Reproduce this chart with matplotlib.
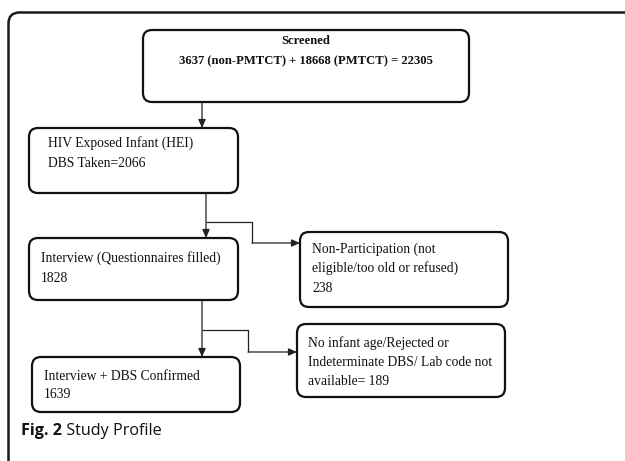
import matplotlib
matplotlib.use("Agg")
import matplotlib.pyplot as plt
from matplotlib.patches import FancyBboxPatch

# ---- data (texts and counts) ----
screened_title = "Screened"
screened_line = "3637 (non-PMTCT) + 18668 (PMTCT) = 22305"
hei_lines = ["HIV Exposed Infant (HEI)", "DBS Taken=2066"]
interview_lines = ["Interview (Questionnaires filled)", "1828"]
nonpart_lines = ["Non-Participation (not", "eligible/too old or refused)", "238"]
confirmed_lines = ["Interview + DBS Confirmed", "1639"]
excluded_lines = ["No infant age/Rejected or", "Indeterminate DBS/ Lab code not", "available= 189"]
caption_bold = "Fig. 2"
caption_rest = " Study Profile"

W, H = 625, 461
fig = plt.figure(figsize=(W / 100, H / 100), dpi=100)
ax = fig.add_axes([0, 0, 1, 1])
ax.set_xlim(0, W)
ax.set_ylim(H, 0)
ax.axis("off")

SERIF = "Liberation Serif"
FS = 9.8
FSB = 9.1

# outer frame
frame = FancyBboxPatch((8.5, 12.5), 700, 500, boxstyle="round,pad=0,rounding_size=11",
                       fc="white", ec="#1a1a1a", lw=1.8, clip_on=False)
ax.add_patch(frame)


def box(x0, y0, x1, y1):
    p = FancyBboxPatch((x0, y0), x1 - x0, y1 - y0,
                       boxstyle="round,pad=0,rounding_size=9",
                       fc="white", ec="#111111", lw=1.6)
    ax.add_patch(p)


def lines_text(x, ys, lines, **kw):
    for y, t in zip(ys, lines):
        ax.text(x, y, t, family=SERIF, fontsize=FS, va="center", ha="left", color="#111111", **kw)


def arrow(x0, y0, x1, y1):
    ax.annotate("", xy=(x1, y1), xytext=(x0, y0),
                arrowprops=dict(arrowstyle="-|>,head_length=0.5,head_width=0.22",
                                lw=0.9, color="#222222", shrinkA=0, shrinkB=0))


def line(xs, ys):
    ax.plot(xs, ys, color="#222222", lw=0.9, solid_capstyle="butt")


# Box 1: screened
box(143, 30, 469, 102)
ax.text(306, 41, screened_title, family=SERIF, fontsize=FSB, weight="bold", ha="center", va="center", color="#111111")
ax.text(306, 61, screened_line, family=SERIF, fontsize=FSB, weight="bold", ha="center", va="center", color="#111111")

# arrow 1 -> 2
arrow(202, 102, 202, 128)

# Box 2: HEI
box(29, 128, 238, 193)
lines_text(48, [143, 163], hei_lines)

# arrow 2 -> 3 and branch to 4
arrow(206, 193, 206, 238)
line([206, 252, 252], [222, 222, 243])
arrow(252, 243, 300, 243)

# Box 3: interview
box(29, 238, 238, 300)
lines_text(41, [258, 278], interview_lines)

# Box 4: non-participation
box(300, 232, 508, 307)
lines_text(312, [249, 268, 288], nonpart_lines)

# arrow 3 -> 5 and branch to 6
arrow(202, 300, 202, 357)
line([202, 248, 248], [330, 330, 352])
arrow(248, 352, 297, 352)

# Box 5: confirmed
box(32, 357, 240, 412)
lines_text(44, [376, 394], confirmed_lines)

# Box 6: excluded
box(297, 324, 505, 397)
lines_text(308, [343, 362, 381], excluded_lines)

# caption
t1 = ax.text(21, 431, caption_bold, family="Open Sans", fontsize=11.6, weight="bold", ha="left", va="center", color="#111111")
fig.canvas.draw()
bb = t1.get_window_extent()
x_end = ax.transData.inverted().transform((bb.x1, bb.y0))[0]
ax.text(x_end, 431, caption_rest, family="Open Sans", fontsize=11.6, ha="left", va="center", color="#111111")

fig.savefig("out.png", dpi=100)
